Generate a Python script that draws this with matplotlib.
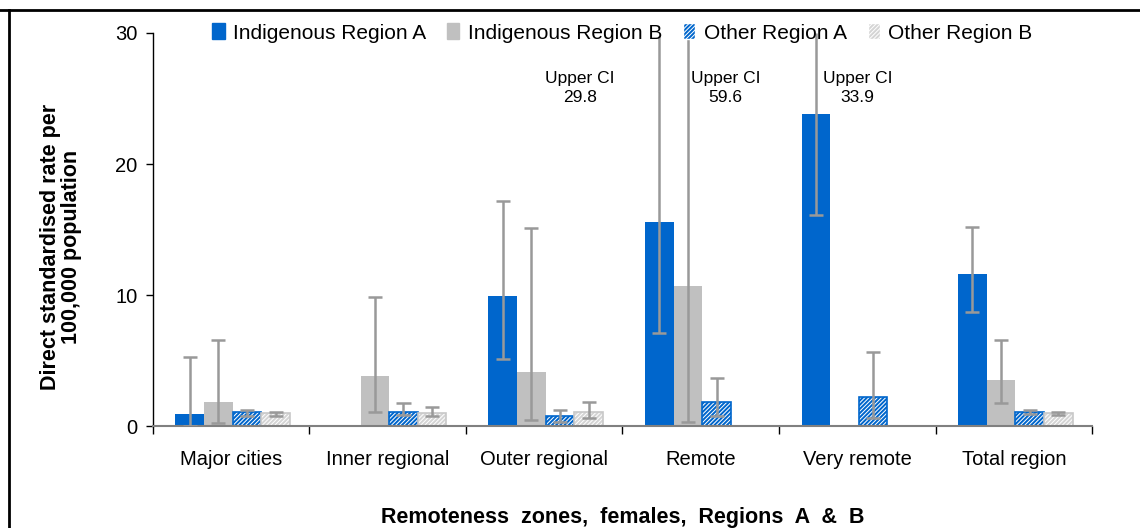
import numpy as np
import matplotlib.pyplot as plt
from matplotlib.patches import Patch
from matplotlib.lines import Line2D

plt.rcParams['font.family'] = ['Liberation Sans', 'DejaVu Sans']
plt.rcParams['hatch.linewidth'] = 0.7

zones = ['Major cities', 'Inner regional', 'Outer regional', 'Remote', 'Very remote', 'Total region']
series = ['Indigenous Region A', 'Indigenous Region B', 'Other Region A', 'Other Region B']

# rates and 95% CI, nan = no bar
ind_a = [0.95, np.nan, 9.9, 15.6, 23.8, 11.6]
ind_a_lo = [0.0, np.nan, 5.15, 7.1, 16.1, 8.7]
ind_a_hi = [5.3, np.nan, 17.2, 29.8, 33.9, 15.2]

ind_b = [1.85, 3.85, 4.15, 10.7, np.nan, 3.55]
ind_b_lo = [0.2, 1.1, 0.45, 0.33, np.nan, 1.73]
ind_b_hi = [6.55, 9.85, 15.1, 59.6, np.nan, 6.6]

oth_a = [1.1, 1.1, 0.8, 1.85, 2.2, 1.1]
oth_a_lo = [0.76, 0.84, 0.3, 0.76, 0.64, 0.92]
oth_a_hi = [1.22, 1.73, 1.22, 3.7, 5.65, 1.22]

oth_b = [0.97, 0.97, 1.1, np.nan, np.nan, 0.97]
oth_b_lo = [0.76, 0.76, 0.61, np.nan, np.nan, 0.82]
oth_b_hi = [1.1, 1.43, 1.83, np.nan, np.nan, 1.09]

# (x in zone units, upper value) for CIs running off the top
ci_notes = [(2.23, 29.8), (3.16, 59.6), (4.0, 33.9)]

blue = '#0066CC'
grey = '#C0C0C0'
err_col = '#999999'
ymax = 30

fig = plt.figure(figsize=(11.4, 5.28), dpi=100)
ax = fig.add_axes([0.134, 0.193, 0.824, 0.7445])

x = np.arange(len(zones))
w = 0.183
data = [(ind_a, ind_a_lo, ind_a_hi), (ind_b, ind_b_lo, ind_b_hi),
        (oth_a, oth_a_lo, oth_a_hi), (oth_b, oth_b_lo, oth_b_hi)]
styles = [(blue, None, blue), (grey, None, grey), (blue, '////////', blue), ('#D4D4D4', '////////', '#C8C8C8')]

for k, ((v, lo, hi), (fc, hatch, ec)) in enumerate(zip(data, styles)):
    xs = x + (k - 1.5) * w + 0.01
    v = np.array(v, dtype=float)
    if hatch:
        ax.bar(xs, v, w, color=fc, edgecolor='white', hatch=hatch, linewidth=0, zorder=2)
        ax.bar(xs, v, w, fill=False, edgecolor=ec, linewidth=1.2, zorder=2)
    else:
        ax.bar(xs, v, w, color=fc, linewidth=0, zorder=2)
    lo = np.array(lo, dtype=float)
    hi = np.array(hi, dtype=float)
    for xi, l, h in zip(xs, lo, hi):
        if np.isnan(l):
            continue
        ax.vlines(xi, l, min(h, ymax), color=err_col, lw=1.8, zorder=3)
        caps = [l] + ([h] if h < ymax - 0.5 else [])
        for c in caps:
            ax.hlines(c, xi - 0.045, xi + 0.045, color=err_col, lw=1.8, zorder=3)

for xn, val in ci_notes:
    ax.text(xn, 25.8, 'Upper CI\n%.1f' % val, ha='center', va='center',
            fontsize=12.5, linespacing=1.3)

ax.set_xlim(-0.5, len(zones) - 0.5)
ax.set_ylim(0, ymax)
ax.set_yticks([0, 10, 20, 30])
ax.tick_params(axis='y', labelsize=14.5, length=5, width=1, direction='out', pad=6)

ax.set_xticks(np.arange(-0.5, len(zones)), [])
ax.set_xticks(x, zones, minor=True)
ax.tick_params(axis='x', which='major', length=6, width=1, color='black')
ax.tick_params(axis='x', which='minor', length=0, labelsize=14.5, pad=17)

for s in ['top', 'right']:
    ax.spines[s].set_visible(False)
ax.spines['bottom'].set_color('#808080')
ax.spines['bottom'].set_linewidth(1.5)
ax.spines['left'].set_linewidth(1)

ax.set_ylabel('Direct standardised rate per\n100,000 population', fontsize=15.5,
              fontweight='bold', linespacing=1.05)
ax.yaxis.set_label_coords(-0.075, 0.455)
fig.text(0.546, 0.02, 'Remoteness  zones,  females,  Regions  A  &  B', fontsize=15.5,
         fontweight='bold', ha='center', va='center')

handles = [Patch(facecolor=blue, edgecolor=blue),
           Patch(facecolor=grey, edgecolor=grey),
           Patch(facecolor=blue, edgecolor='white', hatch='////////'),
           Patch(facecolor='#D4D4D4', edgecolor='white', hatch='////////')]
ax.legend(handles, series, loc='center', bbox_to_anchor=(0.5, 1.0), ncol=4,
          frameon=False, fontsize=15, handlelength=0.6, handleheight=0.8,
          handletextpad=0.4, columnspacing=1.0, borderaxespad=0)

# outer frame edges
fig.add_artist(Line2D([0, 1], [0.982, 0.982], color='black', lw=2, transform=fig.transFigure))
fig.add_artist(Line2D([0.008, 0.008], [0, 0.982], color='black', lw=2, transform=fig.transFigure))

fig.savefig('out.png', dpi=100)
